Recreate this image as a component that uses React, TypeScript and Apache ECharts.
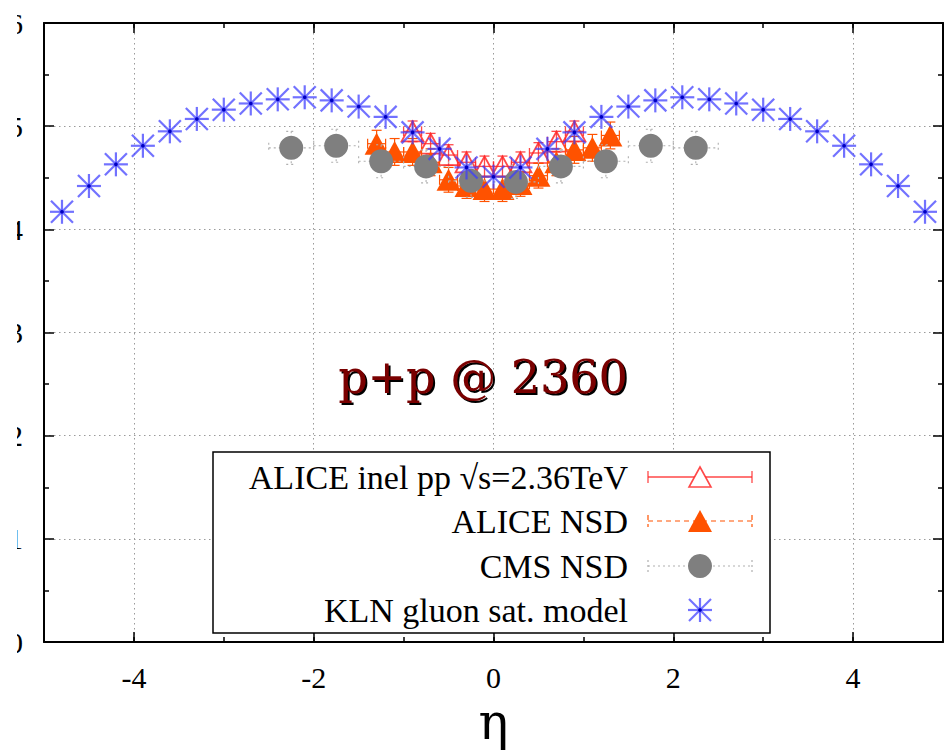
import React, { useEffect, useRef } from 'react';
import * as echarts from 'echarts';

// ---------------- data ----------------
const klnEta = [-4.8, -4.5, -4.2, -3.9, -3.6, -3.3, -3.0, -2.7, -2.4, -2.1, -1.8, -1.5, -1.2, -0.9, -0.6, -0.3, 0,
  0.3, 0.6, 0.9, 1.2, 1.5, 1.8, 2.1, 2.4, 2.7, 3.0, 3.3, 3.6, 3.9, 4.2, 4.5, 4.8];
const klnValues = [4.17, 4.42, 4.63, 4.81, 4.95, 5.07, 5.16, 5.22, 5.26, 5.28, 5.25, 5.19, 5.09, 4.94, 4.78, 4.60, 4.51,
  4.60, 4.78, 4.94, 5.09, 5.19, 5.25, 5.28, 5.26, 5.22, 5.16, 5.07, 4.95, 4.81, 4.63, 4.42, 4.17];

const cmsEta = [-2.25, -1.75, -1.25, -0.75, -0.25, 0.25, 0.75, 1.25, 1.75, 2.25];
const cmsValues = [4.79, 4.81, 4.66, 4.61, 4.47, 4.46, 4.61, 4.66, 4.81, 4.79];
const cmsYErr = [0.16, 0.16, 0.16, 0.16, 0.16, 0.16, 0.16, 0.16, 0.16, 0.16];
const cmsXErr = [0.25, 0.25, 0.25, 0.25, 0.25, 0.25, 0.25, 0.25, 0.25, 0.25];

const aliceNsdEta = [-1.3, -1.1, -0.9, -0.7, -0.5, -0.3, -0.1, 0.1, 0.3, 0.5, 0.7, 0.9, 1.1, 1.3];
const aliceNsdValues = [4.83, 4.75, 4.75, 4.65, 4.48, 4.42, 4.39, 4.39, 4.44, 4.52, 4.65, 4.77, 4.79, 4.91];
const aliceNsdYErr = [0.13, 0.13, 0.13, 0.13, 0.12, 0.12, 0.12, 0.12, 0.12, 0.12, 0.13, 0.13, 0.13, 0.13];
const aliceNsdXErr = [0.1, 0.1, 0.1, 0.1, 0.1, 0.1, 0.1, 0.1, 0.1, 0.1, 0.1, 0.1, 0.1, 0.1];

const aliceInelEta = [-0.9, -0.7, -0.5, -0.3, -0.1, 0.1, 0.3, 0.5, 0.7, 0.9];
const aliceInelValues = [4.95, 4.83, 4.72, 4.65, 4.61, 4.61, 4.65, 4.74, 4.85, 4.95];
const aliceInelYErr = [0.1, 0.1, 0.1, 0.1, 0.1, 0.1, 0.1, 0.1, 0.1, 0.1];
const aliceInelXErr = [0.1, 0.1, 0.1, 0.1, 0.1, 0.1, 0.1, 0.1, 0.1, 0.1];

const xTickValues = [-4, -2, 0, 2, 4];
const yTickValues = [0, 1, 2, 3, 4, 5, 6];

const legendLabels = ['ALICE inel pp \u221As=2.36TeV', 'ALICE NSD', 'CMS NSD', 'KLN gluon sat. model'];
const titleText = 'p+p @ 2360';
const xName = '\u03B7';

// ---------------- styles ----------------
const SERIF = 'Liberation Serif';
const RED = 'rgba(255,40,40,0.85)';
const ORANGE = '#ff5200';
const GRAY = '#7f7f7f';
const ERRGRAY = '#b0b0b0';
const BLUE = 'rgba(60,60,255,0.72)';
const BLUE_DOT = '#0000c0';

function errorBarRender(color: string, dash: number[] | null, cap: number, lw: number) {
  return (params: any, api: any) => {
    const x = api.value(0), y = api.value(1), ey = api.value(2), ex = api.value(3);
    const c = api.coord([x, y]);
    const t = api.coord([x, y + ey]);
    const b = api.coord([x, y - ey]);
    const l = api.coord([x - ex, y]);
    const r = api.coord([x + ex, y]);
    const style: any = { stroke: color, lineWidth: lw, fill: null };
    if (dash) style.lineDash = dash;
    const mk = (x1: number, y1: number, x2: number, y2: number) => ({ type: 'line', shape: { x1, y1, x2, y2 }, style });
    return {
      type: 'group',
      children: [
        mk(c[0], t[1], c[0], b[1]),
        mk(c[0] - cap, t[1], c[0] + cap, t[1]),
        mk(c[0] - cap, b[1], c[0] + cap, b[1]),
        mk(l[0], c[1], r[0], c[1]),
        mk(l[0], c[1] - cap, l[0], c[1] + cap),
        mk(r[0], c[1] - cap, r[0], c[1] + cap),
      ],
    };
  };
}

function starChildren(cx: number, cy: number) {
  const h = 12, d = 11;
  const st = { stroke: BLUE, lineWidth: 2.2, fill: null };
  const mk = (x1: number, y1: number, x2: number, y2: number) => ({ type: 'line', shape: { x1, y1, x2, y2 }, style: st });
  return [
    mk(cx - h, cy, cx + h, cy),
    mk(cx, cy - h, cx, cy + h),
    mk(cx - d, cy - d, cx + d, cy + d),
    mk(cx - d, cy + d, cx + d, cy - d),
    { type: 'circle', shape: { cx, cy, r: 1.8 }, style: { fill: BLUE_DOT } },
  ];
}

const starRender = (params: any, api: any) => {
  const c = api.coord([api.value(0), api.value(1)]);
  return { type: 'group', children: starChildren(c[0], c[1]) };
};

function triPoints(cx: number, cy: number, w: number, h: number) {
  return [[cx, cy - h / 2], [cx + w / 2, cy + h / 2], [cx - w / 2, cy + h / 2]];
}

function textEl(text: string, x: number, y: number, size: number, align: string, vAlign: string, z: number, family = SERIF, fill = '#000') {
  return {
    type: 'text', x, y, z,
    style: { text, fontFamily: family, fontSize: size, fill, align, textAlign: align, verticalAlign: vAlign, textVerticalAlign: vAlign },
  };
}

function buildLegend() {
  const bx = 213, by = 452, bw = 557, bh = 181;
  const rows = [477, 521, 566, 610];
  const tx = 628;
  const sx1 = 648, sx2 = 752, mx = 700;
  const els: any[] = [
    { type: 'rect', shape: { x: bx, y: by, width: bw, height: bh }, style: { fill: '#fff', stroke: '#000', lineWidth: 1.5 }, z: 50 },
  ];
  legendLabels.forEach((t, i) => els.push(textEl(t, tx, rows[i], 34, 'right', 'middle', 51)));
  const line = (y: number, color: string, dash: number[] | null, lw: number) => {
    const st: any = { stroke: color, lineWidth: lw };
    if (dash) st.lineDash = dash;
    return [
      { type: 'line', z: 51, shape: { x1: sx1, y1: y, x2: sx2, y2: y }, style: st },
      { type: 'line', z: 51, shape: { x1: sx1, y1: y - 6, x2: sx1, y2: y + 6 }, style: st },
      { type: 'line', z: 51, shape: { x1: sx2, y1: y - 6, x2: sx2, y2: y + 6 }, style: st },
    ];
  };
  els.push(...line(rows[0], RED, null, 1.3));
  els.push({ type: 'polygon', z: 52, shape: { points: triPoints(mx, rows[0], 22, 20) }, style: { fill: '#fff', stroke: RED, lineWidth: 1.6 } });
  els.push(...line(rows[1], ORANGE, [5, 4], 1.2));
  els.push({ type: 'polygon', z: 52, shape: { points: triPoints(mx, rows[1], 24, 22) }, style: { fill: ORANGE } });
  els.push(...line(rows[2], ERRGRAY, [2, 3], 1.2));
  els.push({ type: 'circle', z: 52, shape: { cx: mx, cy: rows[2], r: 12 }, style: { fill: GRAY } });
  starChildren(mx, rows[3]).forEach((c: any) => els.push({ ...c, z: 52 }));
  return els;
}

export default function App() {
  const ref = useRef<HTMLDivElement>(null);
  useEffect(() => {
    if (!ref.current) return;
    const chart = echarts.init(ref.current, null, { renderer: 'svg' });

    const axisLineStyle = { color: '#000', width: 2 };
    const tickStyle = { color: '#000', width: 1.5 };
    const gridLine = { show: true, lineStyle: { color: '#9a9a9a', width: 1, type: [1.5, 3.5] } };

    const baseX = { type: 'value', min: -5, max: 5, gridIndex: 0 };
    const option: any = {
      animation: false,
      backgroundColor: '#fff',
      grid: { left: 44, right: 1, top: 23, bottom: 110, containLabel: false, outerBoundsMode: 'none' },
      xAxis: [
        {
          ...baseX, position: 'bottom',
          axisLine: { show: true, onZero: false, lineStyle: axisLineStyle },
          axisTick: { show: true, inside: true, length: 10, lineStyle: tickStyle, customValues: xTickValues },
          axisLabel: { show: false },
          splitLine: gridLine,
        },
        {
          ...baseX, position: 'bottom', interval: 1,
          axisLine: { show: false, onZero: false },
          axisTick: { show: true, inside: true, length: 5, lineStyle: tickStyle },
          axisLabel: { show: false },
          splitLine: { show: false },
        },
        {
          ...baseX, position: 'top',
          axisLine: { show: true, onZero: false, lineStyle: axisLineStyle },
          axisTick: { show: true, inside: true, length: 10, lineStyle: tickStyle, customValues: xTickValues },
          axisLabel: { show: false },
          splitLine: { show: false },
        },
        {
          ...baseX, position: 'top', interval: 1,
          axisLine: { show: false, onZero: false },
          axisTick: { show: true, inside: true, length: 5, lineStyle: tickStyle },
          axisLabel: { show: false },
          splitLine: { show: false },
        },
      ],
      yAxis: [
        {
          type: 'value', min: 0, max: 6, interval: 1, position: 'left',
          axisLine: { show: true, onZero: false, lineStyle: axisLineStyle },
          axisTick: { show: true, inside: true, length: 10, lineStyle: tickStyle },
          minorTick: { show: true, splitNumber: 2, length: 5, lineStyle: tickStyle },
          axisLabel: { show: false },
          splitLine: gridLine,
        },
        {
          type: 'value', min: 0, max: 6, interval: 1, position: 'right',
          axisLine: { show: true, onZero: false, lineStyle: axisLineStyle },
          axisTick: { show: true, inside: true, length: 10, lineStyle: tickStyle },
          minorTick: { show: true, splitNumber: 2, length: 5, lineStyle: tickStyle },
          axisLabel: { show: false },
          splitLine: { show: false },
        },
      ],
      series: [
        {
          name: 'ALICE inel err', type: 'custom', renderItem: errorBarRender(RED, null, 5, 1.3),
          data: aliceInelEta.map((x, i) => [x, aliceInelValues[i], aliceInelYErr[i], aliceInelXErr[i]]),
          z: 2, silent: true,
        },
        {
          name: legendLabels[0], type: 'scatter', symbol: 'triangle', symbolSize: [22, 20],
          itemStyle: { color: 'rgba(255,255,255,0)', borderColor: RED, borderWidth: 1.8, opacity: 1 },
          data: aliceInelEta.map((x, i) => [x, aliceInelValues[i]]), z: 3,
        },
        {
          name: 'ALICE NSD err', type: 'custom', renderItem: errorBarRender(ORANGE, null, 5, 1.2),
          data: aliceNsdEta.map((x, i) => [x, aliceNsdValues[i], aliceNsdYErr[i], aliceNsdXErr[i]]),
          z: 4, silent: true,
        },
        {
          name: legendLabels[1], type: 'scatter', symbol: 'triangle', symbolSize: [24, 22],
          itemStyle: { color: ORANGE, opacity: 1 },
          data: aliceNsdEta.map((x, i) => [x, aliceNsdValues[i]]), z: 5,
        },
        {
          name: 'CMS err', type: 'custom', renderItem: errorBarRender(ERRGRAY, [2, 3], 5, 1.1),
          data: cmsEta.map((x, i) => [x, cmsValues[i], cmsYErr[i], cmsXErr[i]]),
          z: 6, silent: true,
        },
        {
          name: legendLabels[2], type: 'scatter', symbol: 'circle', symbolSize: 24,
          itemStyle: { color: GRAY, opacity: 1 },
          data: cmsEta.map((x, i) => [x, cmsValues[i]]), z: 7,
        },
        {
          name: legendLabels[3], type: 'custom', renderItem: starRender,
          data: klnEta.map((x, i) => [x, klnValues[i]]), z: 8,
        },
      ],
    };
    chart.setOption(option);

    // axis tick labels and axis name placed through the axes' own scales
    const y0 = chart.convertToPixel({ yAxisIndex: 0 }, 0) as number;
    const xMid = chart.convertToPixel({ xAxisIndex: 0 }, 0) as number;
    const xLeft = chart.convertToPixel({ xAxisIndex: 0 }, -5) as number;
    const axisTexts: any[] = [];
    xTickValues.forEach((v) => {
      const px = chart.convertToPixel({ xAxisIndex: 0 }, v) as number;
      axisTexts.push(textEl(String(v), px, y0 + 35, 30, 'center', 'middle', 30));
    });
    yTickValues.forEach((v) => {
      const py = chart.convertToPixel({ yAxisIndex: 0 }, v) as number;
      axisTexts.push(textEl(String(v), xLeft - 21, py, 30, 'right', 'middle', 30));
    });
    axisTexts.push(textEl(xName, xMid, y0 + 80, 50, 'center', 'middle', 30, 'DejaVu Serif'));

    chart.setOption({
      graphic: [
        ...axisTexts,
        { type: 'rect', z: 100, shape: { x: 0, y: 0, width: 17, height: 700 }, style: { fill: '#fff' } },
        {
          type: 'text', x: 483, y: 377, z: 40,
          style: {
            text: titleText, fontFamily: 'DejaVu Serif', fontSize: 46, fill: '#7a0000',
            align: 'center', textAlign: 'center', verticalAlign: 'middle', textVerticalAlign: 'middle',
            textShadowColor: '#000', textShadowOffsetX: 2, textShadowOffsetY: 2, textShadowBlur: 0.01,
          },
        },
        ...buildLegend(),
      ],
    });
    return () => chart.dispose();
  }, []);
  return <div ref={ref} style={{ position: 'absolute', left: 0, top: 0, width: 944, height: 752 }} />;
}
